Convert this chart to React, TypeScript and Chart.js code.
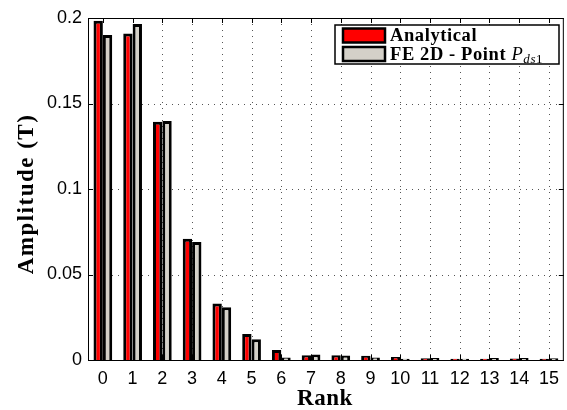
import React, { useEffect, useRef } from "react";
import { Chart, registerables } from "chart.js";

Chart.register(...registerables);

const ranks = ["0", "1", "2", "3", "4", "5", "6", "7", "8", "9", "10", "11", "12", "13", "14", "15"];
const analytical = [0.1984, 0.191, 0.1394, 0.0709, 0.0331, 0.0152, 0.0058, 0.0028, 0.0028, 0.0025, 0.0018, 0.001, 0.0008, 0.0008, 0.0009, 0.0007];
const fe2d = [0.19, 0.1965, 0.1398, 0.069, 0.0308, 0.0121, 0.0015, 0.0032, 0.0026, 0.0015, 0.0008, 0.0011, 0.0008, 0.0011, 0.0012, 0.001];
const yTicks = [0, 0.05, 0.1, 0.15, 0.2];
const legendLabels = ["Analytical", "FE 2D - Point "];

const RED = "#ff0000";
const GRAY = "#d4d0c8";
const SERIF = "'Liberation Serif', 'DejaVu Serif', serif";
const SANS = "'Liberation Sans', Arial, sans-serif";

const gridPlugin = {
  id: "dottedGrid",
  beforeDatasetsDraw(chart: any) {
    const ctx = chart.ctx;
    const a = chart.chartArea;
    const xs = chart.scales.x;
    const ys = chart.scales.y;
    ctx.save();
    ctx.strokeStyle = "#555";
    ctx.lineWidth = 1;
    ctx.setLineDash([1, 5]);
    ctx.beginPath();
    for (let i = 1; i < ranks.length; i++) {
      const x = Math.round(xs.getPixelForValue(i)) + 0.5;
      ctx.moveTo(x, a.top);
      ctx.lineTo(x, a.bottom);
    }
    for (const v of yTicks) {
      if (v === 0 || v === 0.2) continue;
      const y = Math.round(ys.getPixelForValue(v)) + 0.5;
      ctx.moveTo(a.left, y);
      ctx.lineTo(a.right, y);
    }
    ctx.stroke();
    ctx.restore();
  },
};

const decorPlugin = {
  id: "decor",
  afterDraw(chart: any) {
    const ctx = chart.ctx;
    const a = chart.chartArea;
    const xs = chart.scales.x;
    const ys = chart.scales.y;
    ctx.save();
    // box
    ctx.strokeStyle = "#000";
    ctx.lineWidth = 1;
    ctx.strokeRect(a.left + 0.5, a.top + 0.5, a.right - a.left - 1, a.bottom - a.top);
    // inward ticks
    const tl = 5;
    ctx.beginPath();
    for (let i = 0; i < ranks.length; i++) {
      const x = Math.round(xs.getPixelForValue(i)) + 0.5;
      ctx.moveTo(x, a.bottom);
      ctx.lineTo(x, a.bottom - tl);
      ctx.moveTo(x, a.top);
      ctx.lineTo(x, a.top + tl);
    }
    for (const v of yTicks) {
      const y = Math.round(ys.getPixelForValue(v)) + 0.5;
      ctx.moveTo(a.left, y);
      ctx.lineTo(a.left + tl, y);
      ctx.moveTo(a.right, y);
      ctx.lineTo(a.right - tl, y);
    }
    ctx.stroke();

    // axis titles
    ctx.fillStyle = "#000";
    ctx.font = `bold 23px ${SERIF}`;
    ctx.textAlign = "center";
    ctx.textBaseline = "alphabetic";
    (ctx as any).letterSpacing = "0.5px";
    ctx.fillText("Rank", (a.left + a.right) / 2 - 1, 405);
    ctx.save();
    ctx.translate(33, 194);
    ctx.rotate(-Math.PI / 2);
    (ctx as any).letterSpacing = "1.5px";
    ctx.fillText("Amplitude (T)", 0, 0);
    ctx.restore();

    // legend
    const lx = 335, ly = 25, lw = 224, lh = 39;
    ctx.fillStyle = "#fff";
    ctx.fillRect(lx, ly, lw, lh);
    ctx.lineWidth = 1.5;
    ctx.strokeStyle = "#000";
    ctx.strokeRect(lx, ly, lw, lh);
    const colors = [RED, GRAY];
    for (let i = 0; i < 2; i++) {
      const py = 28.5 + i * 18.5;
      ctx.fillStyle = colors[i];
      ctx.fillRect(343, py, 42, 14);
      ctx.lineWidth = 2.5;
      ctx.strokeStyle = "#000";
      ctx.strokeRect(343, py, 42, 14);
    }
    ctx.fillStyle = "#000";
    ctx.textAlign = "left";
    (ctx as any).letterSpacing = "0.6px";
    ctx.font = `bold 18.5px ${SERIF}`;
    ctx.fillText(legendLabels[0], 390, 41);
    ctx.fillText(legendLabels[1], 390, 60);
    const w = ctx.measureText(legendLabels[1]).width;
    ctx.font = `italic 18.5px ${SERIF}`;
    ctx.fillText("P", 390 + w, 60);
    const pw = ctx.measureText("P").width;
    ctx.font = `italic 13px ${SERIF}`;
    ctx.fillText("ds", 390 + w + pw, 63);
    const dw = ctx.measureText("ds").width;
    ctx.font = `13px ${SERIF}`;
    ctx.fillText("1", 390 + w + pw + dw, 63);
    ctx.restore();
  },
};

export default function App() {
  const ref = useRef<HTMLCanvasElement>(null);
  useEffect(() => {
    if (!ref.current) return;
    const chart = new Chart(ref.current, {
      type: "bar",
      data: {
        labels: ranks,
        datasets: [
          {
            label: "Analytical",
            data: analytical,
            backgroundColor: RED,
            borderColor: "#000",
            borderWidth: 3,
            barPercentage: 1,
            categoryPercentage: 0.63,
          },
          {
            label: "FE 2D - Point Pds1",
            data: fe2d,
            backgroundColor: GRAY,
            borderColor: "#000",
            borderWidth: 3,
            barPercentage: 1,
            categoryPercentage: 0.63,
          },
        ],
      },
      options: {
        animation: false,
        responsive: true,
        maintainAspectRatio: false,
        layout: { padding: { left: 0, right: 1, top: 18, bottom: 0 } },
        plugins: { legend: { display: false }, tooltip: { enabled: false } },
        scales: {
          x: {
            afterFit(scale: any) {
              scale.height = 50;
            },
            grid: { display: false, drawTicks: false },
            border: { display: false },
            ticks: {
              color: "#000",
              font: { family: SANS, size: 18 },
              padding: 8,
              maxRotation: 0,
              autoSkip: false,
            },
          } as any,
          y: {
            min: 0,
            max: 0.2,
            afterFit(scale: any) {
              scale.width = 88;
            },
            afterBuildTicks(scale: any) {
              scale.ticks = yTicks.map((v) => ({ value: v }));
            },
            grid: { display: false, drawTicks: false },
            border: { display: false },
            ticks: {
              color: "#000",
              font: { family: SANS, size: 18 },
              padding: 6,
              callback: (v: any) => String(Number(Number(v).toFixed(2))),
            },
          } as any,
        },
      },
      plugins: [gridPlugin, decorPlugin],
    });
    return () => chart.destroy();
  }, []);
  return (
    <div style={{ position: "absolute", left: 0, top: 0, width: 567, height: 410, background: "#fff" }}>
      <canvas ref={ref} />
    </div>
  );
}
